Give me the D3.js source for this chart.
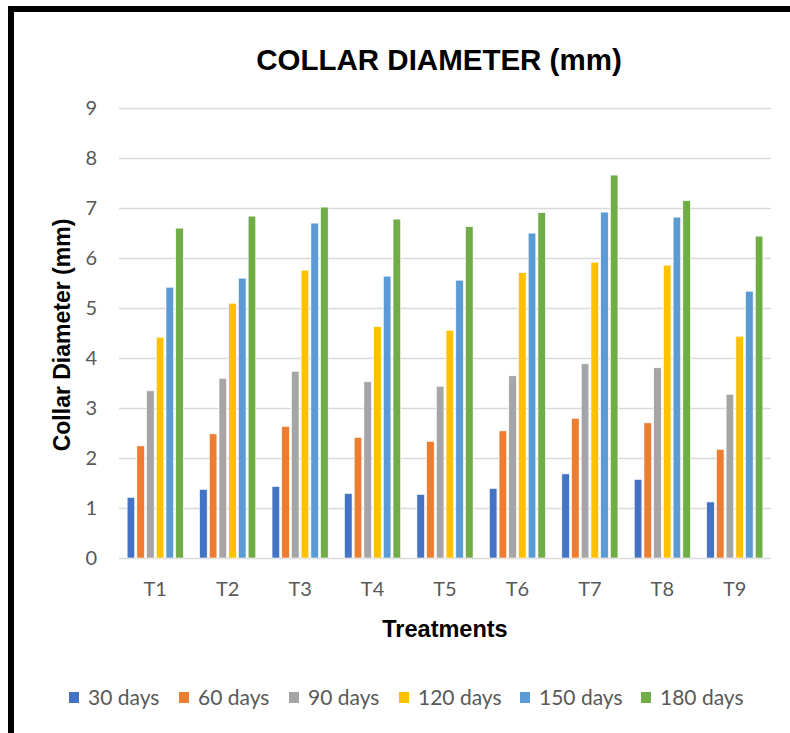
<!DOCTYPE html>
<html>
<head>
<meta charset="utf-8">
<script src="https://cdn.jsdelivr.net/npm/d3@7"></script>
<style>
  html, body { margin: 0; padding: 0; background: #fff; }
  svg { display: block; }
</style>
</head>
<body>
<svg id="chart" width="790" height="733"></svg>
<script>
const categories = ["T1", "T2", "T3", "T4", "T5", "T6", "T7", "T8", "T9"];
const seriesNames = ["30 days", "60 days", "90 days", "120 days", "150 days", "180 days"];
const d30  = [1.21, 1.37, 1.43, 1.29, 1.27, 1.39, 1.68, 1.57, 1.12];
const d60  = [2.24, 2.48, 2.63, 2.41, 2.33, 2.54, 2.79, 2.70, 2.17];
const d90  = [3.34, 3.59, 3.73, 3.52, 3.43, 3.64, 3.88, 3.80, 3.27];
const d120 = [4.41, 5.09, 5.75, 4.62, 4.55, 5.70, 5.91, 5.85, 4.43];
const d150 = [5.41, 5.59, 6.69, 5.63, 5.55, 6.49, 6.91, 6.81, 5.33];
const d180 = [6.59, 6.83, 7.01, 6.77, 6.62, 6.90, 7.65, 7.14, 6.43];
const yTicks = [0, 1, 2, 3, 4, 5, 6, 7, 8, 9];
const colors = ["#4472C4", "#ED7D31", "#A5A5A5", "#FFC000", "#5B9BD5", "#70AD47"];

const seriesValues = [d30, d60, d90, d120, d150, d180];

const svg = d3.select("#chart");
const W = 790, H = 733;
const plot = { left: 119, right: 771, top: 107.5, bottom: 558 };
const fontFam = "Lato, 'Open Sans', sans-serif";
const boldFam = "'Liberation Sans', Arial, sans-serif";

// frame
svg.append("rect").attr("x", 0).attr("y", 0).attr("width", W).attr("height", H).attr("fill", "#fff");
svg.append("rect").attr("x", 8).attr("y", 6).attr("width", W - 8).attr("height", 6).attr("fill", "#000");
svg.append("rect").attr("x", 8).attr("y", 6).attr("width", 6).attr("height", H - 6).attr("fill", "#000");

const x = d3.scaleBand().domain(categories).range([plot.left, plot.right]).paddingInner(0.225).paddingOuter(0.1125);
const xs = d3.scaleBand().domain(seriesNames).range([0, x.bandwidth()]).paddingInner(0.22);
const y = d3.scaleLinear().domain([0, 9]).range([plot.bottom, plot.top]);

// gridlines
svg.append("g").selectAll("line").data(yTicks).join("line")
  .attr("x1", plot.left).attr("x2", plot.right)
  .attr("y1", d => Math.round(y(d)) + 0.5).attr("y2", d => Math.round(y(d)) + 0.5)
  .attr("stroke", "#D9D9D9").attr("stroke-width", 1.5);

// y tick labels
svg.append("g").selectAll("text").data(yTicks).join("text")
  .attr("x", 97).attr("y", d => y(d))
  .attr("dy", "0.36em").attr("text-anchor", "end")
  .attr("font-family", fontFam).attr("font-size", 20).attr("fill", "#595959")
  .text(d => d);

// bars
const groups = svg.append("g").selectAll("g").data(categories).join("g")
  .attr("transform", d => `translate(${x(d)},0)`);
groups.selectAll("rect").data((c, i) => seriesNames.map((s, j) => ({ s, j, v: seriesValues[j][i] })))
  .join("rect")
  .attr("x", d => xs(d.s))
  .attr("width", xs.bandwidth())
  .attr("y", d => y(d.v))
  .attr("height", d => y(0) - y(d.v))
  .attr("fill", d => colors[d.j])
  .attr("stroke", "#fff").attr("stroke-width", 0.6);

// x tick labels
svg.append("g").selectAll("text").data(categories).join("text")
  .attr("x", d => x(d) + x.bandwidth() / 2).attr("y", 596)
  .attr("text-anchor", "middle")
  .attr("font-family", fontFam).attr("font-size", 20).attr("fill", "#595959")
  .text(d => d);

// title
svg.append("text").attr("x", 439).attr("y", 70).attr("text-anchor", "middle")
  .attr("font-family", boldFam).attr("font-weight", "bold")
  .attr("font-size", 29.5).attr("fill", "#000")
  .text("COLLAR DIAMETER (mm)");

// axis titles
svg.append("text").attr("x", 445).attr("y", 637).attr("text-anchor", "middle")
  .attr("font-family", boldFam).attr("font-weight", "bold")
  .attr("font-size", 23.5).attr("fill", "#000").text("Treatments");

svg.append("text").attr("transform", "translate(70,335) rotate(-90)").attr("text-anchor", "middle")
  .attr("font-family", boldFam).attr("font-weight", "bold")
  .attr("font-size", 23).attr("fill", "#000").text("Collar Diameter (mm)");

// legend
const legendX = [69, 179, 289, 399, 520, 641];
const leg = svg.append("g").selectAll("g").data(seriesNames).join("g")
  .attr("transform", (d, i) => `translate(${legendX[i]},692)`);
leg.append("rect").attr("x", 0).attr("y", 0).attr("width", 10).attr("height", 11)
  .attr("fill", (d, i) => colors[i]);
leg.append("text").attr("x", 19).attr("y", 13)
  .attr("font-family", fontFam).attr("font-size", 21).attr("fill", "#595959")
  .text(d => d);
</script>
</body>
</html>
